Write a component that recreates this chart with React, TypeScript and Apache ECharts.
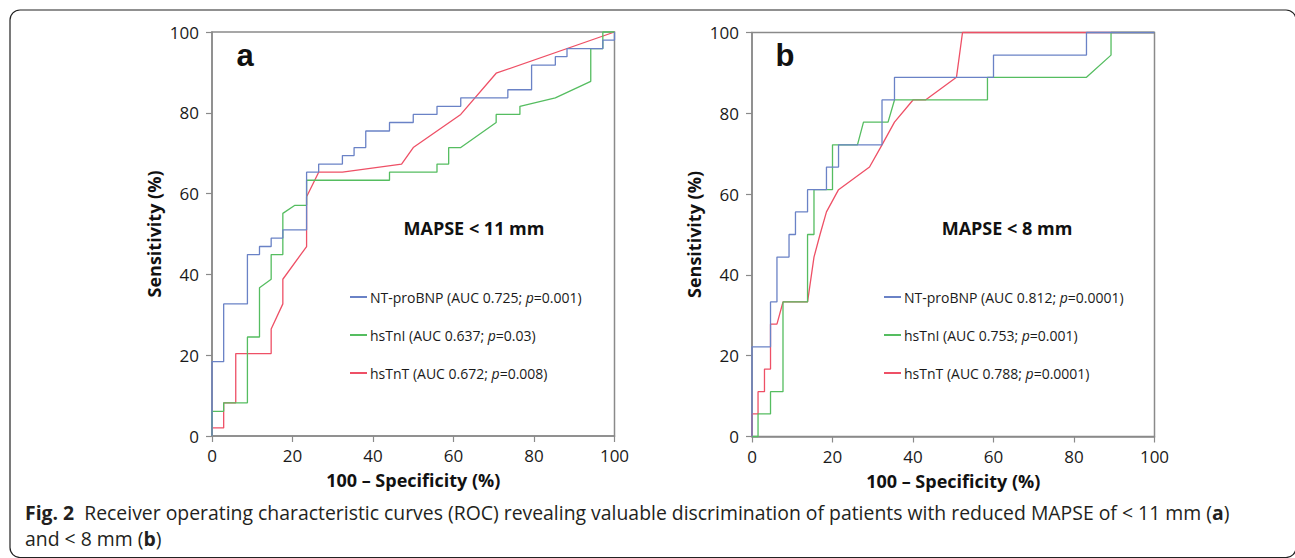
import React, { useEffect, useRef } from "react";
import * as echarts from "echarts";

// ---- data (x = 100 - specificity, y = sensitivity) ----
const aNtProBnp: [number, number][] = [
  [0, 0], [0, 18.4], [2.9, 18.4], [2.9, 32.7], [8.8, 32.7], [8.8, 44.9], [11.8, 44.9], [11.8, 46.9],
  [14.7, 46.9], [14.7, 49.0], [17.6, 49.0], [17.6, 51.0], [23.5, 51.0], [23.5, 65.3], [26.5, 65.3],
  [26.5, 67.3], [32.4, 67.3], [32.4, 69.4], [35.3, 69.4], [35.3, 71.4], [38.2, 71.4], [38.2, 75.5],
  [44.1, 75.5], [44.1, 77.6], [50, 77.6], [50, 79.6], [55.9, 79.6], [55.9, 81.6], [61.8, 81.6],
  [61.8, 83.7], [73.5, 83.7], [73.5, 85.7], [79.4, 85.7], [79.4, 91.8], [85.3, 91.8], [85.3, 93.9],
  [88.2, 93.9], [88.2, 95.9], [97.1, 95.9], [97.1, 98.0], [100, 98.0], [100, 100],
];
const aHsTnI: [number, number][] = [
  [0, 0], [0, 6.1], [2.9, 6.1], [2.9, 8.2], [8.8, 8.2], [8.8, 24.5], [11.8, 24.5], [11.8, 36.7],
  [14.7, 38.8], [14.7, 44.9], [17.6, 44.9], [17.6, 55.1], [20.6, 57.1], [23.5, 57.1], [23.5, 63.3],
  [44.1, 63.3], [44.1, 65.3], [55.9, 65.3], [55.9, 67.3], [58.8, 67.3], [58.8, 71.4], [61.8, 71.4],
  [70.6, 77.6], [70.6, 79.6], [76.5, 79.6], [76.5, 81.6], [85.3, 83.7], [94.1, 87.8], [94.1, 95.9],
  [97.1, 95.9], [97.1, 100], [100, 100],
];
const aHsTnT: [number, number][] = [
  [0, 0], [0, 2.0], [2.9, 2.0], [2.9, 8.2], [5.9, 8.2], [5.9, 20.4], [14.7, 20.4], [14.7, 26.5],
  [17.6, 32.7], [17.6, 38.8], [23.5, 46.9], [23.5, 59.2], [26.5, 65.3], [32.4, 65.3], [47.1, 67.3],
  [50, 71.4], [61.8, 79.6], [70.6, 89.8], [100, 100],
];
const bNtProBnp: [number, number][] = [
  [0, 0], [0, 22.2], [4.6, 22.2], [4.6, 33.3], [6.2, 33.3], [6.2, 44.4], [9.2, 44.4], [9.2, 50],
  [10.8, 50], [10.8, 55.6], [13.8, 55.6], [13.8, 61.1], [18.5, 61.1], [18.5, 66.7], [21.5, 66.7],
  [21.5, 72.2], [32.3, 72.2], [32.3, 83.3], [35.4, 83.3], [35.4, 88.9], [60, 88.9], [60, 94.4],
  [83.1, 94.4], [83.1, 100], [100, 100],
];
const bHsTnI: [number, number][] = [
  [0, 0], [1.5, 0], [1.5, 5.6], [4.6, 5.6], [4.6, 11.1], [7.7, 11.1], [7.7, 33.3], [13.8, 33.3],
  [13.8, 50], [15.4, 50], [15.4, 61.1], [20, 61.1], [20, 72.2], [26.2, 72.2], [27.7, 77.8],
  [33.8, 77.8], [35.4, 83.3], [58.5, 83.3], [58.5, 88.9], [83.1, 88.9], [89.2, 94.4], [89.2, 100],
  [100, 100],
];
const bHsTnT: [number, number][] = [
  [0, 0], [0, 5.6], [1.5, 5.6], [1.5, 11.1], [3.1, 11.1], [3.1, 16.7], [4.6, 16.7], [4.6, 27.8],
  [6.2, 27.8], [7.7, 33.3], [13.8, 33.3], [15.4, 44.4], [16.9, 50], [18.5, 55.6], [21.5, 61.1],
  [29.2, 66.7], [32.3, 72.2], [35.4, 77.8], [40, 83.3], [43.1, 83.3], [50.8, 88.9], [52.3, 100],
  [100, 100],
];

const aLabels = ["NT-proBNP (AUC 0.725; p=0.001)", "hsTnI (AUC 0.637; p=0.03)", "hsTnT (AUC 0.672; p=0.008)"];
const bLabels = ["NT-proBNP (AUC 0.812; p=0.0001)", "hsTnI (AUC 0.753; p=0.001)", "hsTnT (AUC 0.788; p=0.0001)"];
const panelLetters = ["a", "b"];
const panelNotes = ["MAPSE < 11 mm", "MAPSE < 8 mm"];
const xTitle = "100 – Specificity (%)";
const yTitle = "Sensitivity (%)";
const captionLine1 =
  "{b|Fig. 2}  Receiver operating characteristic curves (ROC) revealing valuable discrimination of patients with reduced MAPSE of < 11 mm ({b|a})";
const captionLine2 = "and < 8 mm ({b|b})";

const COLORS = ["#6a82c6", "#55bd60", "#ee5066"];
const AXIS_COLOR = "#8a8a8a";
const FONT = "'Open Sans', 'Noto Sans', sans-serif";
const CAPTION_SIZE = 19.4;

export default function App() {
  const ref = useRef<HTMLDivElement>(null);

  useEffect(() => {
    if (!ref.current) return;
    const chart = echarts.init(ref.current, undefined, { renderer: "svg" });

    const grids = [
      { left: 212, top: 32, width: 402.5, height: 404 },
      { left: 752, top: 32.5, width: 402.5, height: 404 },
    ];

    const mkX = (i: number) => ({
      type: "value",
      gridIndex: i,
      min: 0,
      max: 100,
      interval: 20,
      name: xTitle,
      nameLocation: "middle",
      nameGap: 35,
      nameTextStyle: { fontFamily: FONT, fontWeight: "bold", fontSize: 18, color: "#111" },
      axisLine: { show: true, lineStyle: { color: AXIS_COLOR, width: 1.5 } },
      axisTick: { show: true, length: 6, lineStyle: { color: AXIS_COLOR, width: 1.2 } },
      splitLine: { show: false },
      axisLabel: { fontFamily: FONT, fontSize: 17, color: "#1a1a1a", margin: 11 },
    });
    const mkY = (i: number) => ({
      type: "value",
      gridIndex: i,
      min: 0,
      max: 100,
      interval: 20,
      name: yTitle,
      nameLocation: "middle",
      nameRotate: 90,
      nameGap: 49,
      nameTextStyle: { fontFamily: FONT, fontWeight: "bold", fontSize: 18, color: "#111" },
      axisLine: { show: true, lineStyle: { color: AXIS_COLOR, width: 1.5 } },
      axisTick: { show: true, length: 6, lineStyle: { color: AXIS_COLOR, width: 1.2 } },
      splitLine: { show: false },
      axisLabel: { fontFamily: FONT, fontSize: 17, color: "#1a1a1a", margin: 13 },
    });

    const panels = [
      { labels: aLabels, data: [aNtProBnp, aHsTnI, aHsTnT] },
      { labels: bLabels, data: [bNtProBnp, bHsTnI, bHsTnT] },
    ];

    const series: any[] = [];
    panels.forEach((p, pi) => {
      p.data.forEach((d, si) => {
        series.push({
          type: "line",
          name: p.labels[si],
          xAxisIndex: pi,
          yAxisIndex: pi,
          data: d,
          symbol: "none",
          clip: false,
          color: COLORS[si],
          lineStyle: { color: COLORS[si], width: 1.3 },
          z: 3 - si,
        });
      });
    });

    const legendFormatter = (name: string) => {
      const idx = name.indexOf("p=");
      if (idx < 0) return `{t|${name}}`;
      return `{t|${name.slice(0, idx)}}{i|p}{t|${name.slice(idx + 1)}}`;
    };
    const legendRich = {
      t: { fontFamily: FONT, fontSize: 14, color: "#1a1a1a", lineHeight: 16 },
      i: { fontFamily: FONT, fontSize: 14, color: "#1a1a1a", fontStyle: "italic", lineHeight: 16 },
    };
    const legends = [
      { left: 345, data: aLabels },
      { left: 879, data: bLabels },
    ].map((l) => ({
      show: true,
      orient: "vertical",
      left: l.left,
      top: 285,
      data: l.data,
      icon: "rect",
      itemWidth: 17,
      itemHeight: 2,
      itemGap: 24,
      selectedMode: false,
      formatter: legendFormatter,
      textStyle: { fontFamily: FONT, fontSize: 14, color: "#1a1a1a", rich: legendRich, padding: [0, 0, 0, -2] },
    }));

    const graphic: any[] = [
      {
        type: "rect",
        shape: { x: 10, y: 10, width: 1286, height: 547.5, r: 10 },
        style: { fill: "none", stroke: "#222", lineWidth: 1.2 },
        silent: true,
      },
      {
        type: "text",
        style: { text: panelLetters[0], x: 245, y: 55, fontFamily: "'Liberation Sans', Arial, sans-serif", fontWeight: "bold", fontSize: 31, fill: "#111", align: "center", verticalAlign: "middle" },
      },
      {
        type: "text",
        style: { text: panelLetters[1], x: 785, y: 55, fontFamily: "'Liberation Sans', Arial, sans-serif", fontWeight: "bold", fontSize: 31, fill: "#111", align: "center", verticalAlign: "middle" },
      },
      {
        type: "text",
        style: { text: panelNotes[0], x: 474, y: 228, fontFamily: FONT, fontWeight: "bold", fontSize: 18, fill: "#111", align: "center", verticalAlign: "middle" },
      },
      {
        type: "text",
        style: { text: panelNotes[1], x: 1007, y: 228, fontFamily: FONT, fontWeight: "bold", fontSize: 18, fill: "#111", align: "center", verticalAlign: "middle" },
      },
      {
        type: "text",
        style: {
          text: captionLine1, x: 25, y: 512, fontFamily: FONT, fontSize: CAPTION_SIZE, fill: "#231f20", align: "left", verticalAlign: "middle",
          rich: { b: { fontFamily: FONT, fontSize: CAPTION_SIZE, fontWeight: "bold", fill: "#231f20" } },
        },
      },
      {
        type: "text",
        style: {
          text: captionLine2, x: 25, y: 538, fontFamily: FONT, fontSize: CAPTION_SIZE, fill: "#231f20", align: "left", verticalAlign: "middle",
          rich: { b: { fontFamily: FONT, fontSize: CAPTION_SIZE, fontWeight: "bold", fill: "#231f20" } },
        },
      },
    ];

    chart.setOption({
      animation: false,
      backgroundColor: "#ffffff",
      grid: grids.map((g) => ({ ...g, show: true, borderColor: AXIS_COLOR, borderWidth: 1.5, backgroundColor: "transparent" })),
      xAxis: [mkX(0), mkX(1)],
      yAxis: [mkY(0), mkY(1)],
      legend: legends,
      series,
      graphic,
    });

    return () => chart.dispose();
  }, []);

  return <div ref={ref} style={{ position: "absolute", left: 0, top: 0, width: 1295, height: 558 }} />;
}
